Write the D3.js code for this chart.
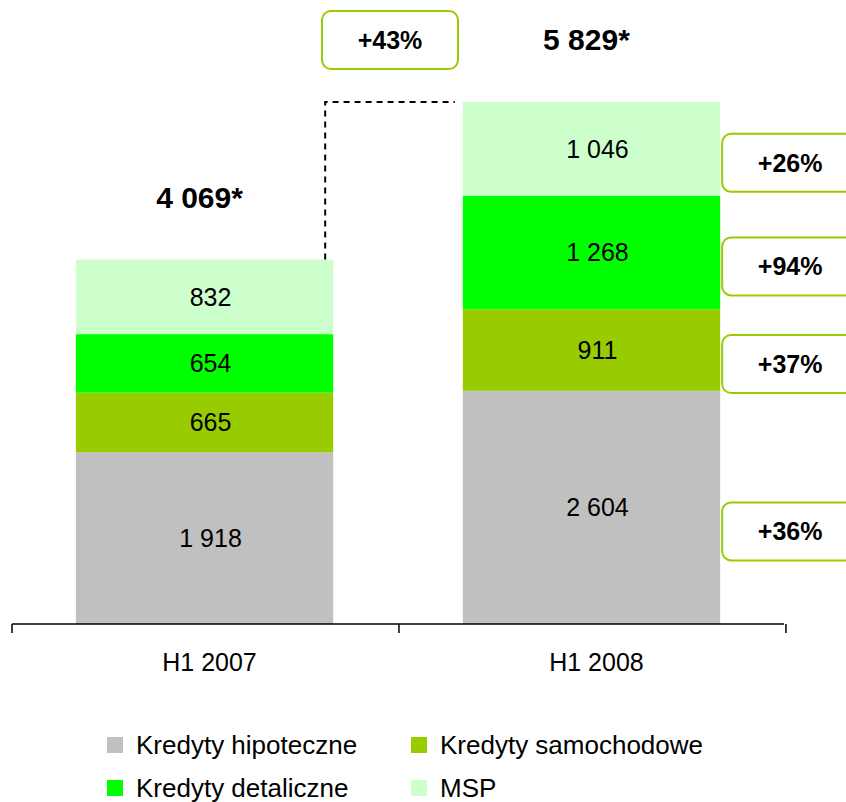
<!DOCTYPE html>
<html>
<head>
<meta charset="utf-8">
<script src="https://cdn.jsdelivr.net/npm/d3@7"></script>
<style>
  body { margin: 0; background: #fff; }
  svg { display: block; font-family: Arial, "Liberation Sans", sans-serif; }
</style>
</head>
<body>
<svg id="chart"></svg>
<script>
// data
const categories = ["H1 2007", "H1 2008"];
const seriesNames = ["Kredyty hipoteczne", "Kredyty samochodowe", "Kredyty detaliczne", "MSP"];
const hipoteczne = [1918, 2604];
const samochodowe = [665, 911];
const detaliczne = [654, 1268];
const msp = [832, 1046];
const colors = ["#c0c0c0", "#99cc00", "#00ff00", "#ccffcc"];

const margin = { top: 102, right: 62, bottom: 178, left: 12 };
const W = 846, H = 802;
const width = W - margin.left - margin.right;
const height = H - margin.top - margin.bottom;

const svg = d3.select("#chart")
    .attr("width", W)
    .attr("height", H);

const g = svg.append("g")
    .attr("transform", `translate(${margin.left},${margin.top})`);

// build rows for stacking
const rows = categories.map((c, i) => ({
    cat: c,
    "Kredyty hipoteczne": hipoteczne[i],
    "Kredyty samochodowe": samochodowe[i],
    "Kredyty detaliczne": detaliczne[i],
    "MSP": msp[i]
}));
const totals = rows.map(r => d3.sum(seriesNames, k => r[k]));
const stacked = d3.stack().keys(seriesNames)(rows);

// polish number format: "1 918"
const fmt = d3.formatLocale({ decimal: ",", thousands: " ", grouping: [3], currency: ["", ""] }).format(",d");

// scales
const x = d3.scaleBand()
    .domain(categories)
    .range([0, width])
    .paddingInner(0.335)
    .paddingOuter(0.165);

const y = d3.scaleLinear()
    .domain([0, d3.max(totals)])
    .range([height, 0]);

const color = d3.scaleOrdinal().domain(seriesNames).range(colors);

// bars
const layers = g.selectAll(".layer")
    .data(stacked)
    .enter().append("g")
    .attr("class", "layer")
    .attr("fill", d => color(d.key));

layers.selectAll("rect")
    .data(d => d)
    .enter().append("rect")
    .attr("x", d => x(d.data.cat))
    .attr("y", d => y(d[1]))
    .attr("width", x.bandwidth())
    .attr("height", d => y(d[0]) - y(d[1]));

// value labels
layers.selectAll("text")
    .data(d => d)
    .enter().append("text")
    .attr("x", d => x(d.data.cat) + x.bandwidth() / 2 + 6)
    .attr("y", d => (y(d[0]) + y(d[1])) / 2)
    .attr("dy", "0.36em")
    .attr("text-anchor", "middle")
    .attr("font-size", 25)
    .attr("fill", "#000")
    .text(d => fmt(d[1] - d[0]));

// totals
g.selectAll(".total")
    .data(categories)
    .enter().append("text")
    .attr("class", "total")
    .attr("x", d => x(d) + x.bandwidth() / 2 - 5)
    .attr("y", (d, i) => y(totals[i]) - 52)
    .attr("text-anchor", "middle")
    .attr("font-size", 30)
    .attr("font-weight", "bold")
    .text((d, i) => fmt(totals[i]) + "*");

// axis: line with ticks on band edges
g.append("line")
    .attr("x1", 0).attr("x2", width)
    .attr("y1", height).attr("y2", height)
    .attr("stroke", "#000").attr("stroke-width", 1.5);

g.selectAll(".tick-edge")
    .data(d3.range(categories.length + 1))
    .enter().append("line")
    .attr("x1", i => i * x.step()).attr("x2", i => i * x.step())
    .attr("y1", height).attr("y2", height + 9)
    .attr("stroke", "#000").attr("stroke-width", 1.5);

g.selectAll(".cat-label")
    .data(categories)
    .enter().append("text")
    .attr("x", d => x(d) + x.bandwidth() / 2 + 5)
    .attr("y", height + 47)
    .attr("text-anchor", "middle")
    .attr("font-size", 25)
    .text(d => d);

// dashed connector between totals
const x1 = x(categories[0]) + x.bandwidth() - 8;
const x2 = x(categories[1]) - 8;
g.append("path")
    .attr("d", `M${x1},${y(totals[0])}V${y(totals[1])}H${x2}`)
    .attr("fill", "none")
    .attr("stroke", "#000")
    .attr("stroke-width", 2)
    .attr("stroke-dasharray", "6,5");

// growth boxes
const boxW = 136, boxH = 58;
function growthBox(cx, cy, label) {
    g.append("rect")
        .attr("x", cx - boxW / 2).attr("y", cy - boxH / 2)
        .attr("width", boxW).attr("height", boxH)
        .attr("rx", 9).attr("ry", 9)
        .attr("fill", "#fff")
        .attr("stroke", "#99cc00")
        .attr("stroke-width", 2);
    g.append("text")
        .attr("x", cx).attr("y", cy)
        .attr("dy", "0.36em")
        .attr("text-anchor", "middle")
        .attr("font-size", 25)
        .attr("font-weight", "bold")
        .text(label);
}
const pct = (a, b) => "+" + Math.round((b / a - 1) * 100) + "%";

growthBox((x1 + x2) / 2, y(totals[1]) - 62, pct(totals[0], totals[1]));

const boxLeft = x(categories[1]) + x.bandwidth() + 2;
stacked.forEach((s, i) => {
    const d0 = s[0], d1 = s[1];
    const mid = (y(d1[0]) + y(d1[1])) / 2;
    growthBox(boxLeft + boxW / 2, mid + (i === 0 ? 24 : 14), pct(d0[1] - d0[0], d1[1] - d1[0]));
});

// legend
const legend = svg.append("g").attr("transform", "translate(107,0)");
const legendPos = [[0, 745], [304, 745], [0, 788], [304, 788]];
const legendOrder = ["Kredyty hipoteczne", "Kredyty samochodowe", "Kredyty detaliczne", "MSP"];
legendOrder.forEach((name, i) => {
    const item = legend.append("g")
        .attr("transform", `translate(${legendPos[i][0]},${legendPos[i][1]})`);
    item.append("rect")
        .attr("x", 0).attr("y", -8)
        .attr("width", 16).attr("height", 16)
        .attr("fill", color(name));
    item.append("text")
        .attr("x", 29).attr("y", 0)
        .attr("dy", "0.36em")
        .attr("font-size", 26)
        .text(name);
});
</script>
</body>
</html>
